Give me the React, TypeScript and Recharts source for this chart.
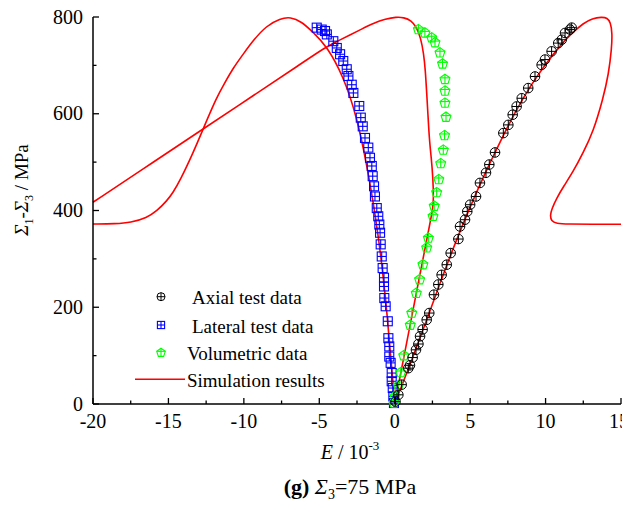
import { ComposedChart, Line, Scatter, XAxis, YAxis, Legend, Label } from 'recharts'

// test data, [E (10^-3), stress difference (MPa)]
const axialTest = [
  [0.05, 5], [0.24, 19], [0.46, 40], [0.9, 74], [1.01, 80], [1.19, 96], [1.41, 112], [1.57, 124],
  [1.68, 140], [1.85, 154], [2.12, 174], [2.29, 188], [2.6, 226], [2.89, 247], [3.11, 267],
  [3.45, 288], [3.71, 312], [4.22, 341], [4.33, 367], [4.66, 381], [4.81, 398], [5.0, 412],
  [5.39, 429], [5.65, 457], [6.05, 478], [6.27, 495], [6.65, 520], [7.2, 560], [7.53, 577],
  [7.82, 598], [8.08, 615], [8.42, 632], [8.85, 653], [9.3, 677], [9.74, 701], [9.96, 712],
  [10.4, 729], [10.84, 746], [11.07, 753], [11.29, 767], [11.62, 774], [11.73, 778],
]

const lateralTest = [
  [-5.17, 778], [-4.84, 774], [-4.62, 771], [-4.5, 764], [-4.07, 750], [-3.84, 736], [-3.62, 723],
  [-3.41, 709], [-3.18, 692], [-3.07, 678], [-2.85, 660], [-2.74, 643], [-2.35, 616], [-2.25, 592],
  [-2.12, 574], [-1.97, 550], [-1.75, 530], [-1.64, 509], [-1.52, 492], [-1.46, 471], [-1.37, 450],
  [-1.31, 429], [-1.19, 405], [-1.09, 388], [-1.02, 371], [-0.97, 354], [-0.93, 330], [-0.86, 305],
  [-0.8, 281], [-0.71, 261], [-0.71, 243], [-0.69, 219], [-0.6, 202], [-0.46, 171], [-0.42, 136],
  [-0.36, 119], [-0.36, 98], [-0.27, 85], [-0.2, 64], [-0.2, 47], [-0.13, 33], [-0.09, 16], [-0.05, 2],
]

const volumetricTest = [
  [-0.05, 2], [0.02, 16], [0.24, 38], [0.4, 65], [0.6, 100], [1.03, 163], [1.13, 188], [1.43, 229],
  [1.65, 257], [1.87, 288], [2.12, 323], [2.23, 343], [2.54, 388], [2.62, 409], [2.78, 437],
  [2.92, 464], [3.05, 497], [3.22, 525], [3.3, 555], [3.4, 593], [3.33, 622], [3.33, 647],
  [3.33, 671], [3.17, 703], [3.0, 726], [2.67, 747], [2.45, 757], [2.0, 767], [1.57, 774],
]

// simulation curves
const simAxial = [
  [0, 0], [1, 80], [2, 163], [3, 250], [4, 332], [5, 408], [6, 478], [7, 543], [8, 605], [9, 658],
  [10, 703], [11, 742], [11.8, 768], [12.5, 787], [13.1, 797], [13.72, 800], [14.1, 798], [14.3, 789],
  [14.42, 767], [14.38, 735], [14.18, 682], [13.8, 630], [13.16, 563], [12.5, 520], [11.84, 481],
  [11.2, 450], [10.74, 426], [10.42, 404], [10.3, 390], [10.38, 378], [10.7, 373], [11.5, 372],
  [13, 371.5], [15, 371.5],
]

const simLateral = [
  [0, 0], [-0.09, 36], [-0.27, 98], [-0.49, 181], [-0.76, 264], [-1.09, 347], [-1.42, 416],
  [-1.86, 496], [-2.52, 595], [-3.41, 678], [-4.51, 740], [-5.39, 768], [-6.2, 791], [-6.9, 800],
  [-7.6, 797], [-8.5, 782], [-9.4, 751], [-10.0, 725], [-10.7, 695], [-11.3, 662], [-11.8, 634],
  [-12.68, 570], [-13.35, 520], [-14.23, 462], [-14.7, 437], [-15.1, 420], [-15.77, 399],
  [-16.43, 385], [-17.5, 375], [-18.5, 372.5], [-20, 372],
]

const simVolumetric = [
  [0, 0], [0.6, 96], [1.2, 192], [1.8, 288], [2.3, 368], [2.52, 402], [2.58, 422], [2.53, 470],
  [2.42, 510], [2.3, 545], [2.2, 600], [2.12, 643], [2.03, 690], [1.92, 725], [1.72, 757],
  [1.45, 779], [1.1, 793], [0.6, 799], [0.1, 800], [-0.6, 796], [-1.42, 787], [-2.2, 775],
  [-2.96, 763], [-3.8, 750], [-4.62, 737], [-6.27, 702], [-9.5, 635], [-12.68, 569], [-16, 500],
  [-20, 417],
]

const xMajorTicks = [-20, -15, -10, -5, 0, 5, 10, 15]
const xMinorTicks = [-17.5, -12.5, -7.5, -2.5, 2.5, 7.5, 12.5]
const yMajorTicks = [0, 200, 400, 600, 800]
const yMinorTicks = [100, 300, 500, 700]

const legendLabels = ['Axial test data', 'Lateral test data', 'Volumetric data', 'Simulation results']

const FONT = '"Liberation Serif", "Times New Roman", serif'
const RED = '#ff0000'

const toPoints = (rows: number[][]) => rows.map(([x, y]) => ({ x, y }))

function CircleCross({ cx, cy, r = 4.8 }: any) {
  return (
    <g fill="none" stroke="#000" strokeWidth={1}>
      <circle cx={cx} cy={cy} r={r} />
      <line x1={cx - r} x2={cx + r} y1={cy} y2={cy} />
      <line x1={cx} x2={cx} y1={cy - r} y2={cy + r} />
    </g>
  )
}

function SquareCross({ cx, cy, r = 4.5 }: any) {
  return (
    <g fill="none" stroke="#0000ff" strokeWidth={1.1}>
      <rect x={cx - r} y={cy - r} width={2 * r} height={2 * r} />
      <line x1={cx - r} x2={cx + r} y1={cy} y2={cy} />
      <line x1={cx} x2={cx} y1={cy - r} y2={cy + r} />
    </g>
  )
}

function PentagonCross({ cx, cy, r = 5.2 }: any) {
  const pts = [0, 1, 2, 3, 4].map((i) => {
    const a = -Math.PI / 2 + (i * 2 * Math.PI) / 5
    return `${cx + r * Math.cos(a)},${cy + r * Math.sin(a)}`
  })
  const yb = cy + r * Math.sin(-Math.PI / 2 + (2 * 2 * Math.PI) / 5)
  return (
    <g fill="none" stroke="#00ff00" strokeWidth={1.1}>
      <polygon points={pts.join(' ')} />
      <line x1={cx - r * 0.95} x2={cx + r * 0.95} y1={cy - r * 0.3} y2={cy - r * 0.3} />
      <line x1={cx} x2={cx} y1={cy - r} y2={yb} />
    </g>
  )
}

function XTick(props: any) {
  const { x, y, payload } = props
  const v = payload.value
  const major = xMajorTicks.includes(v)
  const ay = y - 8
  // last label sits at the very edge of the page
  const lx = v === xMajorTicks[xMajorTicks.length - 1] ? x - 2 : x
  return (
    <g>
      <line x1={x} x2={x} y1={ay} y2={ay - (major ? 6 : 3.5)} stroke="#000" strokeWidth={1.3} />
      {major && (
        <text x={lx} y={ay + 24} textAnchor="middle" fontSize={20} fontFamily={FONT} fill="#000">
          {v}
        </text>
      )}
    </g>
  )
}

function YTick(props: any) {
  const { x, y, payload } = props
  const v = payload.value
  const major = yMajorTicks.includes(v)
  const ax = x + 8
  return (
    <g>
      <line x1={ax} x2={ax + (major ? 6 : 3.5)} y1={y} y2={y} stroke="#000" strokeWidth={1.3} />
      {major && (
        <text x={ax - 10} y={y + 6.5} textAnchor="end" fontSize={20} fontFamily={FONT} fill="#000">
          {v}
        </text>
      )}
    </g>
  )
}

function YTitle() {
  return (
    <text transform="translate(28,190) rotate(-90)" textAnchor="middle" fontSize={19} fontFamily={FONT} fill="#000">
      <tspan fontStyle="italic">Σ</tspan>
      <tspan fontSize={12} dy={5}>1</tspan>
      <tspan dy={-5}>-</tspan>
      <tspan fontStyle="italic">Σ</tspan>
      <tspan fontSize={12} dy={5}>3</tspan>
      <tspan dy={-5}> / MPa</tspan>
    </text>
  )
}

function XTitle() {
  return (
    <g fontFamily={FONT} fill="#000">
      <text x={350} y={459} textAnchor="middle" fontSize={20}>
        <tspan fontStyle="italic">E</tspan>
        <tspan> / 10</tspan>
        <tspan fontSize={13} dy={-9}>-3</tspan>
      </text>
      <text x={350} y={494} textAnchor="middle" fontSize={22}>
        <tspan fontWeight="bold">(g)</tspan>
        <tspan> </tspan>
        <tspan fontStyle="italic">Σ</tspan>
        <tspan fontSize={14} dy={5}>3</tspan>
        <tspan dy={-5}>=75 MPa</tspan>
      </text>
    </g>
  )
}

function LegendBox() {
  const rows = [18.7, 47, 74.7, 101.3]
  return (
    <svg width={240} height={125} style={{ overflow: 'visible' }}>
      <CircleCross cx={38} cy={rows[0]} r={4} />
      <SquareCross cx={38} cy={rows[1]} r={3.6} />
      <PentagonCross cx={38} cy={rows[2]} r={4.5} />
      <line x1={12} x2={62} y1={rows[3]} y2={rows[3]} stroke={RED} strokeWidth={1.6} />
      {legendLabels.map((t, i) => (
        <text key={t} x={i < 2 ? 69 : 64} y={rows[i] + 7.5} fontSize={19} fontFamily={FONT} fill="#000">
          {t}
        </text>
      ))}
    </svg>
  )
}

const lineProps = {
  dataKey: 'y',
  type: 'basis' as const,
  stroke: RED,
  strokeWidth: 1.6,
  dot: false,
  activeDot: false,
  isAnimationActive: false,
  legendType: 'none' as const,
}

export default function App() {
  return (
    <div style={{ margin: -8 }}>
      <ComposedChart width={630} height={507} margin={{ top: 17, right: 9, left: 33, bottom: 43 }}>
        <XAxis
          type="number"
          dataKey="x"
          domain={[-20, 15]}
          ticks={[...xMajorTicks, ...xMinorTicks].sort((a, b) => a - b)}
          interval={0}
          height={60}
          tickSize={0}
          tickMargin={8}
          tickLine={false}
          tick={<XTick />}
          axisLine={{ stroke: '#000', strokeWidth: 1.5 }}
        >
          <Label content={<XTitle />} />
        </XAxis>
        <YAxis
          type="number"
          dataKey="y"
          domain={[0, 800]}
          ticks={[...yMajorTicks, ...yMinorTicks].sort((a, b) => a - b)}
          interval={0}
          width={60}
          tickSize={0}
          tickMargin={8}
          tickLine={false}
          tick={<YTick />}
          axisLine={{ stroke: '#000', strokeWidth: 1.5 }}
        >
          <Label content={<YTitle />} />
        </YAxis>
        <Legend
          layout="vertical"
          align="center"
          verticalAlign="middle"
          wrapperStyle={{ left: 123, top: 278, width: 240, height: 125 }}
          content={<LegendBox />}
        />
        <Line data={toPoints(simLateral)} {...lineProps} />
        <Line data={toPoints(simVolumetric)} {...lineProps} />
        <Scatter data={toPoints(lateralTest)} shape={<SquareCross />} isAnimationActive={false} legendType="none" />
        <Scatter data={toPoints(volumetricTest)} shape={<PentagonCross />} isAnimationActive={false} legendType="none" />
        <Scatter data={toPoints(axialTest)} shape={<CircleCross />} isAnimationActive={false} legendType="none" />
        <Line data={toPoints(simAxial)} {...lineProps} />
      </ComposedChart>
    </div>
  )
}
